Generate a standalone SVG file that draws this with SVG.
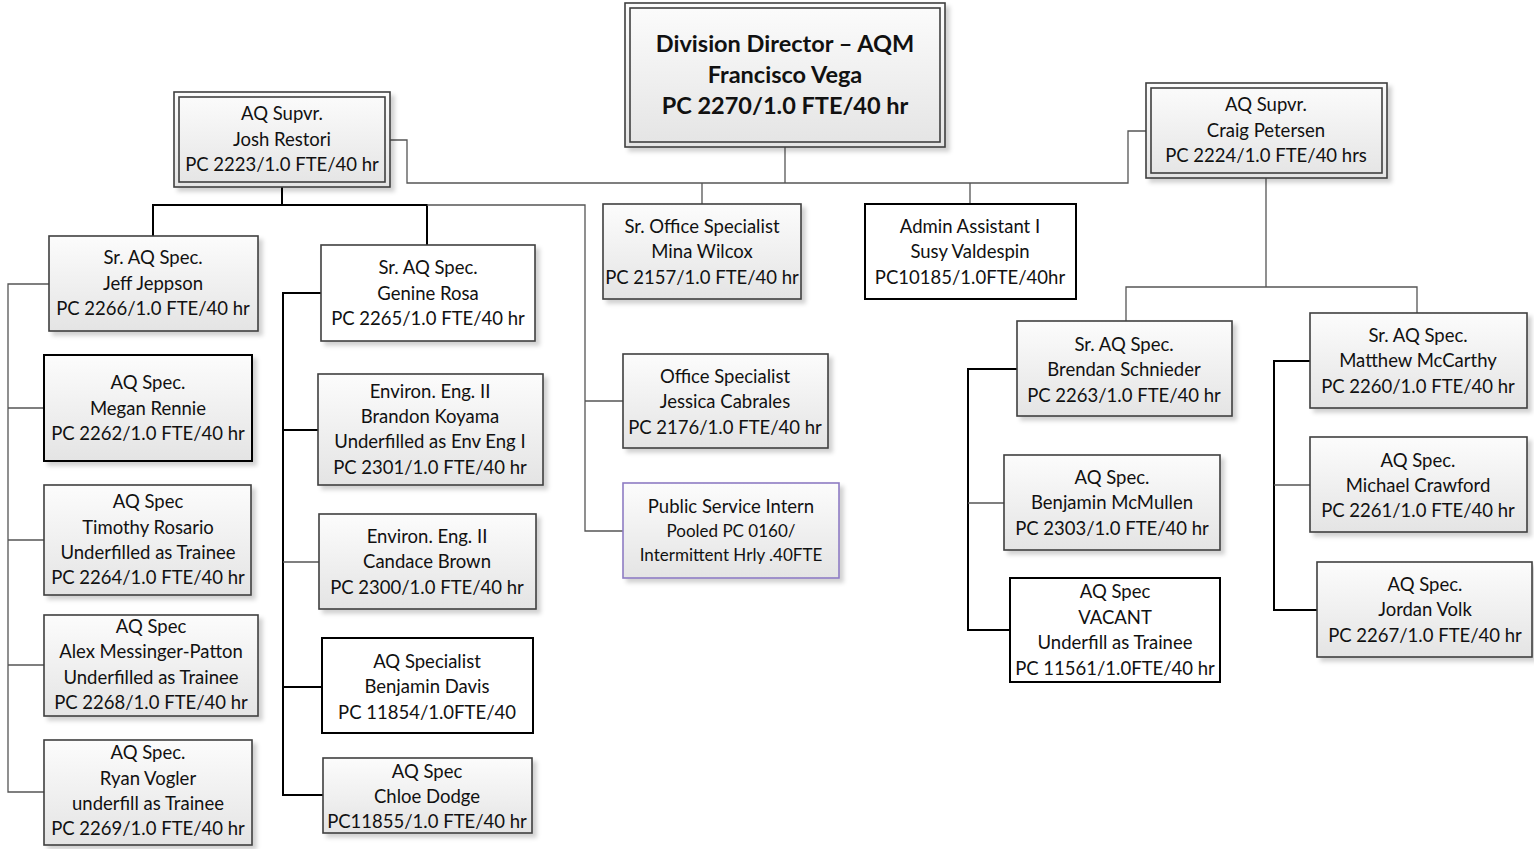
<svg xmlns="http://www.w3.org/2000/svg" width="1534" height="849" viewBox="0 0 1534 849">
<style>
text{font-family:Lato,"Liberation Sans",sans-serif;font-size:18.5px;fill:#111;text-anchor:middle}
.b{font-weight:bold;font-size:23.5px}
.sm{font-size:17px}
.g{fill:url(#gr);stroke:#404040;stroke-width:1.6}
.w{fill:#fff;stroke:#404040;stroke-width:1.6}
.k{fill:#fff;stroke:#000;stroke-width:2}
.gk{fill:url(#gr);stroke:#000;stroke-width:2}
.p{fill:url(#gr);stroke:#8e7cc3;stroke-width:1.6}
.in{fill:none;stroke:#404040;stroke-width:1.6}
.c{fill:none;stroke:#555;stroke-width:1.3}
.ck{fill:none;stroke:#000;stroke-width:2}
</style>
<defs>
<linearGradient id="gr" x1="0" y1="0" x2="0" y2="1"><stop offset="0" stop-color="#fcfcfc"/><stop offset="1" stop-color="#e4e4e4"/></linearGradient>
<filter id="sh" x="-10%" y="-10%" width="130%" height="130%"><feDropShadow dx="4" dy="4" stdDeviation="2" flood-color="#000" flood-opacity="0.18"/></filter>
</defs>
<g id="connectors">
<path class="c" d="M785,147V183"/>
<path class="c" d="M390,140H407V183H1128V131H1146"/>
<path class="c" d="M702,183V204M970,183V204"/>
<path class="ck" d="M282,187V205M153,236V205H427V245"/>
<path class="c" d="M427,205H585V531H623M585,401H623"/>
<path class="c" d="M49,284H8V792H44M8,408H44M8,540H44M8,665H44"/>
<path class="ck" d="M321,293H283V795H323M283,430H318M283,687H322"/>
<path class="c" d="M283,562H319"/>
<path class="c" d="M1266,178V287M1126,321V287H1417V313"/>
<path class="ck" d="M1017,369H968V630H1010"/>
<path class="c" d="M968,503H1004"/>
<path class="ck" d="M1310,361H1274V610H1317"/>
<path class="c" d="M1274,485H1310"/>
</g>
<g id="director">
<rect class="g" x="625" y="3" width="320" height="144" filter="url(#sh)"/>
<rect class="in" x="630" y="8" width="310" height="134"/>
<text class="b" x="785" y="52">Division Director – AQM</text>
<text class="b" x="785" y="83">Francisco Vega</text>
<text class="b" x="785" y="114">PC 2270/1.0 FTE/40 hr</text>
</g>
<g id="josh">
<rect class="g" x="174" y="92" width="216" height="95" filter="url(#sh)"/>
<rect class="in" x="179" y="97" width="206" height="85"/>
<text x="282" y="120">AQ Supvr.</text>
<text x="282" y="146">Josh Restori</text>
<text x="282" y="171">PC 2223/1.0 FTE/40 hr</text>
</g>
<g id="craig">
<rect class="g" x="1146" y="83" width="241" height="95" filter="url(#sh)"/>
<rect class="in" x="1151" y="88" width="231" height="85"/>
<text x="1266" y="111">AQ Supvr.</text>
<text x="1266" y="137">Craig Petersen</text>
<text x="1266" y="162">PC 2224/1.0 FTE/40 hrs</text>
</g>
<g id="jeff">
<rect class="g" x="49" y="236" width="209" height="95" filter="url(#sh)"/>
<text x="153" y="264">Sr. AQ Spec.</text>
<text x="153" y="290">Jeff Jeppson</text>
<text x="153" y="315">PC 2266/1.0 FTE/40 hr</text>
</g>
<g id="megan">
<rect class="gk" x="44" y="355" width="208" height="106" filter="url(#sh)"/>
<text x="148" y="389">AQ Spec.</text>
<text x="148" y="415">Megan Rennie</text>
<text x="148" y="440">PC 2262/1.0 FTE/40 hr</text>
</g>
<g id="timothy">
<rect class="g" x="44" y="485" width="207" height="110" filter="url(#sh)"/>
<text x="148" y="508">AQ Spec</text>
<text x="148" y="534">Timothy Rosario</text>
<text x="148" y="559">Underfilled as Trainee</text>
<text x="148" y="584">PC 2264/1.0 FTE/40 hr</text>
</g>
<g id="alex">
<rect class="g" x="44" y="615" width="214" height="101" filter="url(#sh)"/>
<text x="151" y="633">AQ Spec</text>
<text x="151" y="658">Alex Messinger-Patton</text>
<text x="151" y="684">Underfilled as Trainee</text>
<text x="151" y="709">PC 2268/1.0 FTE/40 hr</text>
</g>
<g id="ryan">
<rect class="g" x="44" y="740" width="208" height="105" filter="url(#sh)"/>
<text x="148" y="759">AQ Spec.</text>
<text x="148" y="785">Ryan Vogler</text>
<text x="148" y="810">underfill as Trainee</text>
<text x="148" y="835">PC 2269/1.0 FTE/40 hr</text>
</g>
<g id="genine">
<rect class="w" x="321" y="245" width="214" height="96" filter="url(#sh)"/>
<text x="428" y="274">Sr. AQ Spec.</text>
<text x="428" y="300">Genine Rosa</text>
<text x="428" y="325">PC 2265/1.0 FTE/40 hr</text>
</g>
<g id="brandon">
<rect class="g" x="318" y="374" width="225" height="111" filter="url(#sh)"/>
<text x="430" y="398">Environ. Eng. II</text>
<text x="430" y="423">Brandon Koyama</text>
<text x="430" y="448">Underfilled as Env Eng I</text>
<text x="430" y="474">PC 2301/1.0 FTE/40 hr</text>
</g>
<g id="candace">
<rect class="g" x="319" y="514" width="217" height="95" filter="url(#sh)"/>
<text x="427" y="543">Environ. Eng.  II</text>
<text x="427" y="568">Candace Brown</text>
<text x="427" y="594">PC 2300/1.0 FTE/40 hr</text>
</g>
<g id="davis">
<rect class="k" x="322" y="638" width="211" height="95"/>
<text x="427" y="668">AQ Specialist</text>
<text x="427" y="693">Benjamin Davis</text>
<text x="427" y="719">PC 11854/1.0FTE/40</text>
</g>
<g id="chloe">
<rect class="g" x="323" y="758" width="209" height="75" filter="url(#sh)"/>
<text x="427" y="778">AQ Spec</text>
<text x="427" y="803">Chloe Dodge</text>
<text x="427" y="828">PC11855/1.0 FTE/40 hr</text>
</g>
<g id="mina">
<rect class="g" x="603" y="204" width="198" height="95" filter="url(#sh)"/>
<text x="702" y="233">Sr. Office Specialist</text>
<text x="702" y="258">Mina Wilcox</text>
<text x="702" y="284">PC 2157/1.0 FTE/40 hr</text>
</g>
<g id="admin">
<rect class="k" x="865" y="204" width="211" height="95"/>
<text x="970" y="233">Admin Assistant I</text>
<text x="970" y="258">Susy Valdespin</text>
<text x="970" y="284">PC10185/1.0FTE/40hr</text>
</g>
<g id="jessica">
<rect class="g" x="623" y="354" width="205" height="94" filter="url(#sh)"/>
<text x="725" y="383">Office Specialist</text>
<text x="725" y="408">Jessica Cabrales</text>
<text x="725" y="434">PC 2176/1.0 FTE/40 hr</text>
</g>
<g id="intern">
<rect class="p" x="623" y="483" width="216" height="95" filter="url(#sh)"/>
<text x="731" y="513">Public Service Intern</text>
<text class="sm" x="731" y="537">Pooled PC 0160/</text>
<text class="sm" x="731" y="561">Intermittent Hrly .40FTE</text>
</g>
<g id="brendan">
<rect class="g" x="1017" y="321" width="215" height="95" filter="url(#sh)"/>
<text x="1124" y="351">Sr. AQ Spec.</text>
<text x="1124" y="376">Brendan Schnieder</text>
<text x="1124" y="402">PC 2263/1.0 FTE/40 hr</text>
</g>
<g id="mcmullen">
<rect class="g" x="1004" y="455" width="216" height="95" filter="url(#sh)"/>
<text x="1112" y="484">AQ Spec.</text>
<text x="1112" y="509">Benjamin McMullen</text>
<text x="1112" y="535">PC 2303/1.0 FTE/40 hr</text>
</g>
<g id="vacant">
<rect class="k" x="1010" y="578" width="210" height="104"/>
<text x="1115" y="598">AQ Spec</text>
<text x="1115" y="624">VACANT</text>
<text x="1115" y="649">Underfill as Trainee</text>
<text x="1115" y="675">PC 11561/1.0FTE/40 hr</text>
</g>
<g id="matthew">
<rect class="g" x="1310" y="313" width="217" height="95" filter="url(#sh)"/>
<text x="1418" y="342">Sr. AQ Spec.</text>
<text x="1418" y="367">Matthew McCarthy</text>
<text x="1418" y="393">PC 2260/1.0 FTE/40 hr</text>
</g>
<g id="michael">
<rect class="g" x="1310" y="437" width="217" height="95" filter="url(#sh)"/>
<text x="1418" y="467">AQ Spec.</text>
<text x="1418" y="492">Michael Crawford</text>
<text x="1418" y="517">PC 2261/1.0 FTE/40 hr</text>
</g>
<g id="jordan">
<rect class="g" x="1317" y="562" width="215" height="95" filter="url(#sh)"/>
<text x="1425" y="591">AQ Spec.</text>
<text x="1425" y="616">Jordan Volk</text>
<text x="1425" y="642">PC 2267/1.0 FTE/40 hr</text>
</g>
</svg>
